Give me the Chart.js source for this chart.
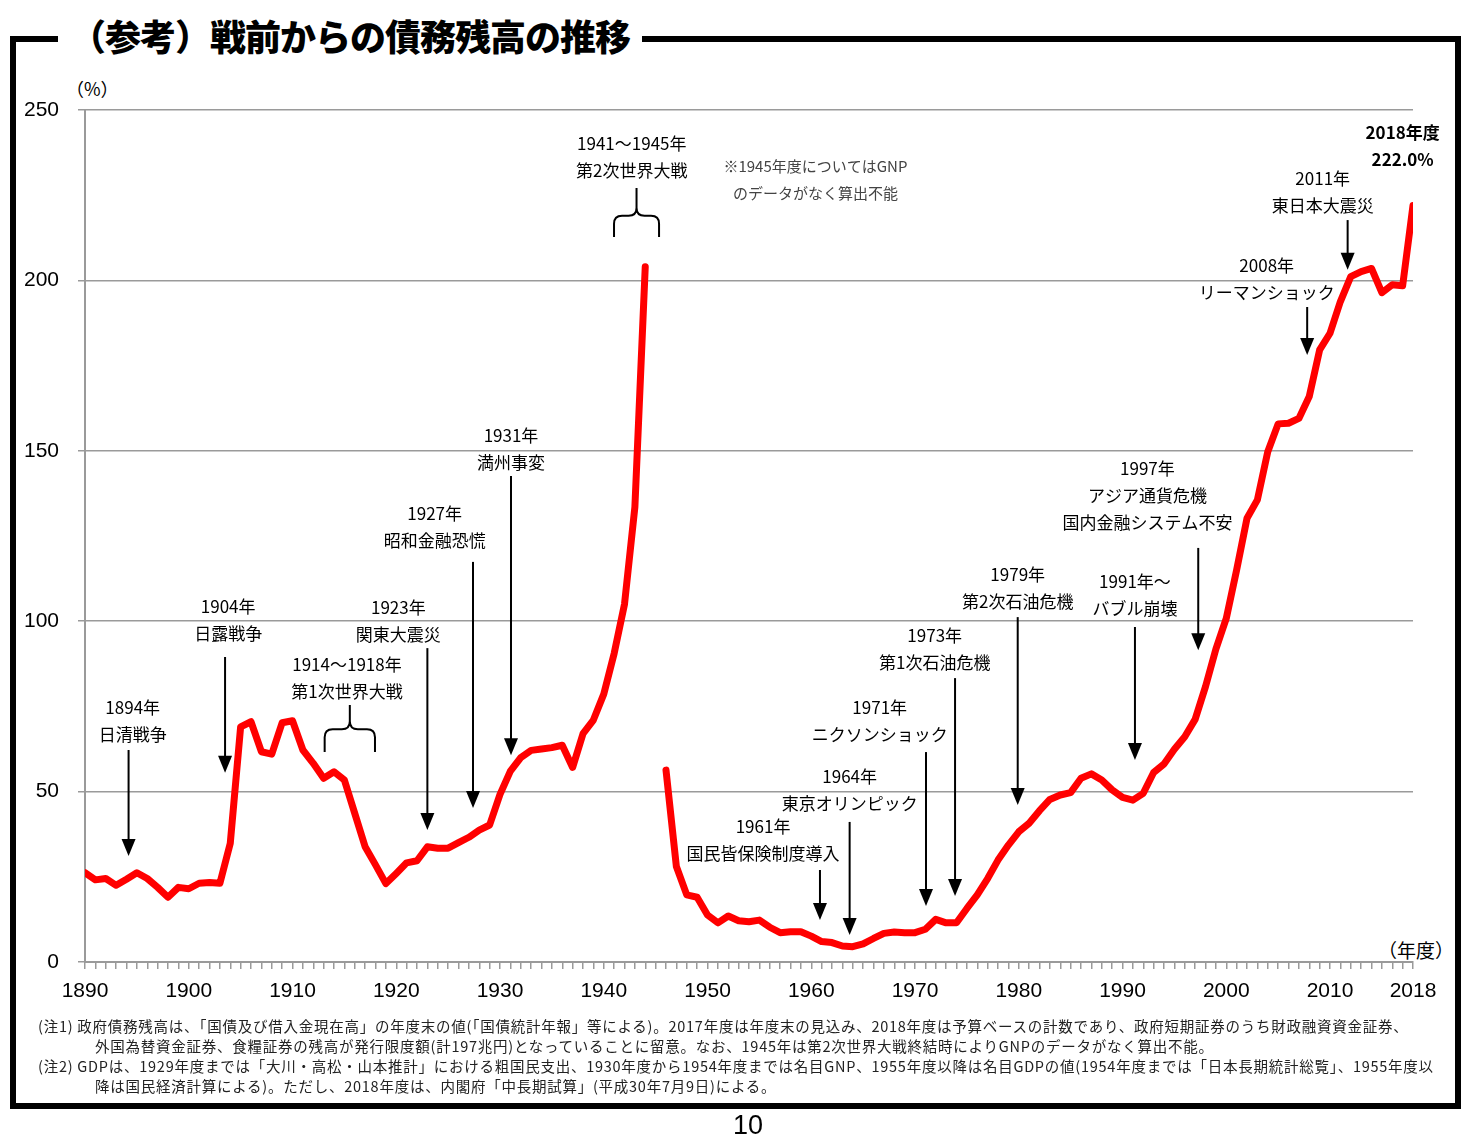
<!DOCTYPE html>
<html lang="ja">
<head>
<meta charset="utf-8">
<title>戦前からの債務残高の推移</title>
<script src="https://cdn.jsdelivr.net/npm/chart.js@4.4.1/dist/chart.umd.min.js"></script>
<style>
    html, body { margin: 0; padding: 0; background: #fff; }
    body { width: 1465px; height: 1139px; position: relative; overflow: hidden; font-family: 'Noto Sans CJK JP', sans-serif; color: #000; }
    #frame { position: absolute; left: 10px; top: 36px; width: 1451px; height: 1073px; box-sizing: border-box; border: 6px solid #000; }
    #title { position: absolute; left: 58px; top: 11px; padding: 0 12px; background: #fff; font-size: 36px; font-weight: 900; letter-spacing: -1px; line-height: 48px; white-space: nowrap; }
    #myChart { position: absolute; left: 0; top: 0; }
    .unit { position: absolute; font-size: 18px; white-space: nowrap; }
    #notes { position: absolute; left: 38px; top: 1016px; font-size: 14.5px; letter-spacing: 0.75px; line-height: 20px; color: #222; white-space: nowrap; }
    #notes .indent { padding-left: 57px; }
    #page { position: absolute; left: 733px; top: 1110px; font-family: 'Liberation Sans', Arial, sans-serif; font-size: 27px; }
</style>
</head>
<body>
<div id="frame"></div>
<div id="title">（参考）戦前からの債務残高の推移</div>
<div class="unit" style="left:66px; top:75px;">（%）</div>
<div class="unit" style="left:1378px; top:936px; font-size:19px;">（年度）</div>
<canvas id="myChart" width="1465" height="1139"></canvas>
<div id="notes">
    <div>(注1) 政府債務残高は、「国債及び借入金現在高」の年度末の値(「国債統計年報」等による)。2017年度は年度末の見込み、2018年度は予算ベースの計数であり、政府短期証券のうち財政融資資金証券、</div>
    <div class="indent">外国為替資金証券、食糧証券の残高が発行限度額(計197兆円)となっていることに留意。なお、1945年は第2次世界大戦終結時によりGNPのデータがなく算出不能。</div>
    <div>(注2) GDPは、1929年度までは「大川・高松・山本推計」における粗国民支出、1930年度から1954年度までは名目GNP、1955年度以降は名目GDPの値(1954年度までは「日本長期統計総覧」、1955年度以</div>
    <div class="indent">降は国民経済計算による)。ただし、2018年度は、内閣府「中長期試算」(平成30年7月9日)による。</div>
</div>
<div id="page">10</div>
<script>
// 年度
const fiscalYears = [
    1890, 1891, 1892, 1893, 1894, 1895, 1896, 1897, 1898, 1899,
    1900, 1901, 1902, 1903, 1904, 1905, 1906, 1907, 1908, 1909,
    1910, 1911, 1912, 1913, 1914, 1915, 1916, 1917, 1918, 1919,
    1920, 1921, 1922, 1923, 1924, 1925, 1926, 1927, 1928, 1929,
    1930, 1931, 1932, 1933, 1934, 1935, 1936, 1937, 1938, 1939,
    1940, 1941, 1942, 1943, 1944, 1945, 1946, 1947, 1948, 1949,
    1950, 1951, 1952, 1953, 1954, 1955, 1956, 1957, 1958, 1959,
    1960, 1961, 1962, 1963, 1964, 1965, 1966, 1967, 1968, 1969,
    1970, 1971, 1972, 1973, 1974, 1975, 1976, 1977, 1978, 1979,
    1980, 1981, 1982, 1983, 1984, 1985, 1986, 1987, 1988, 1989,
    1990, 1991, 1992, 1993, 1994, 1995, 1996, 1997, 1998, 1999,
    2000, 2001, 2002, 2003, 2004, 2005, 2006, 2007, 2008, 2009,
    2010, 2011, 2012, 2013, 2014, 2015, 2016, 2017, 2018,
];

// 債務残高の対GDP(GNP)比 (%)。1945年度は算出不能のため null
const debtRatio = [
    26.2, 24.1, 24.5, 22.5, 24.3, 26.2, 24.5, 21.9, 19.0, 21.9,
    21.5, 23.1, 23.3, 23.1, 34.8, 69.0, 70.5, 61.7, 61.0, 70.2,
    70.8, 62.2, 58.3, 53.9, 55.8, 53.4, 43.6, 33.8, 28.5, 23.0,
    26.0, 29.1, 29.7, 33.8, 33.4, 33.4, 35.0, 36.6, 38.7, 40.2,
    49.2, 56.0, 60.0, 62.1, 62.5, 62.9, 63.6, 57.1, 67.0, 71.0,
    78.6, 90.5, 105.0, 133.5, 204.0, null, 56.3, 28.0, 19.7, 19.0,
    13.8, 11.5, 13.5, 12.1, 11.8, 12.3, 10.2, 8.6, 8.9, 8.9,
    7.6, 6.0, 5.7, 4.7, 4.5, 5.3, 6.9, 8.4, 8.8, 8.6,
    8.6, 9.6, 12.5, 11.5, 11.5, 15.7, 19.7, 24.5, 29.9, 34.3,
    38.2, 40.7, 44.4, 47.7, 49.0, 49.7, 53.9, 55.2, 53.4, 50.5,
    48.3, 47.5, 49.5, 55.6, 58.1, 62.4, 66.1, 71.2, 80.8, 91.8,
    100.8, 115.0, 130.2, 135.6, 149.7, 157.9, 158.1, 159.5, 165.9, 179.6,
    184.5, 193.8, 201.1, 202.6, 203.5, 196.4, 198.7, 198.4, 222.0,
];

// 軸の目盛ラベル
const xTickLabels = [1890, 1900, 1910, 1920, 1930, 1940, 1950, 1960, 1970, 1980, 1990, 2000, 2010, 2018];
const yTickValues = [0, 50, 100, 150, 200, 250];

// 出来事の注記 (位置は年度・%の単位で指定)
const events = [
    { lines: ['1894年', '日清戦争'], at: [1894.6, 74.8], arrow: [1894.2, 62.2, 31.1] },
    { lines: ['1904年', '日露戦争'], at: [1903.8, 104.2], arrow: [1903.5, 89.5, 55.5] },
    { lines: ['1914～1918年', '第1次世界大戦'], at: [1915.25, 87.4], brace: [1913.1, 1917.95, 75.4, 68.3, 61.6] },
    { lines: ['1923年', '関東大震災'], at: [1920.2, 103.9], arrow: [1923.0, 92.1, 38.7] },
    { lines: ['1927年', '昭和金融恐慌'], at: [1923.7, 131.5], arrow: [1927.4, 117.4, 45.2] },
    { lines: ['1931年', '満州事変'], at: [1931.06, 154.6], arrow: [1931.06, 142.6, 60.7] },
    { lines: ['1941～1945年', '第2次世界大戦'], at: [1942.7, 240.3], brace: [1940.99, 1945.33, 227.1, 219.0, 212.7] },
    { lines: ['※1945年度についてはGNP', 'のデータがなく算出不能'], at: [1960.4, 233.6], note: true },
    { lines: ['1961年', '国民皆保険制度導入'], at: [1955.35, 39.6], arrow: [1960.84, 27.0, 12.3] },
    { lines: ['1964年', '東京オリンピック'], at: [1963.7, 54.3], arrow: [1963.7, 41.1, 7.9] },
    { lines: ['1971年', 'ニクソンショック'], at: [1966.6, 74.8], arrow: [1971.06, 61.6, 16.4] },
    { lines: ['1973年', '第1次石油危機'], at: [1971.9, 95.9], arrow: [1973.86, 83.3, 19.4] },
    { lines: ['1979年', '第2次石油危機'], at: [1979.9, 113.8], arrow: [1979.9, 101.2, 46.1] },
    { lines: ['1991年～', 'バブル崩壊'], at: [1991.2, 111.5], arrow: [1991.2, 98.3, 59.3] },
    { lines: ['1997年', 'アジア通貨危機', '国内金融システム不安'], at: [1992.4, 144.7], arrow: [1997.3, 121.5, 91.5] },
    { lines: ['2008年', 'リーマンショック'], at: [2003.9, 204.5], arrow: [2007.8, 192.2, 178.1] },
    { lines: ['2011年', '東日本大震災'], at: [2009.3, 230.0], arrow: [2011.7, 217.7, 203.1] },
    { lines: ['2018年度', '222.0%'], at: [2017.0, 243.3], bold: true },
];

/**
 * 下向きの矢印を描画します。
 */
const drawArrow = (ctx, x, yFrom, yTo) => {
    ctx.lineWidth = 2;
    ctx.beginPath();
    ctx.moveTo(x, yFrom);
    ctx.lineTo(x, yTo - 12);
    ctx.stroke();

    ctx.beginPath();
    ctx.moveTo(x - 7, yTo - 17);
    ctx.lineTo(x + 7, yTo - 17);
    ctx.lineTo(x, yTo);
    ctx.closePath();
    ctx.fill();
};

/**
 * 期間を示す括弧を描画します。
 */
const drawBrace = (ctx, xl, xr, yTop, yMid, yEnd) => {
    const xc = (xl + xr) / 2;
    const r = 8;
    ctx.lineWidth = 2;
    ctx.beginPath();
    ctx.moveTo(xl, yEnd);
    ctx.lineTo(xl, yMid + r);
    ctx.quadraticCurveTo(xl, yMid, xl + r, yMid);
    ctx.lineTo(xc - r, yMid);
    ctx.quadraticCurveTo(xc, yMid, xc, yMid - r);
    ctx.lineTo(xc, yTop);
    ctx.moveTo(xr, yEnd);
    ctx.lineTo(xr, yMid + r);
    ctx.quadraticCurveTo(xr, yMid, xr - r, yMid);
    ctx.lineTo(xc + r, yMid);
    ctx.quadraticCurveTo(xc, yMid, xc, yMid - r);
    ctx.stroke();
};

const annotationPlugin = {
    id: 'annotations',
    afterDatasetsDraw: (chart) => {
        const ctx = chart.ctx;
        const x = chart.scales.x;
        const y = chart.scales.y;

        ctx.save();
        ctx.fillStyle = '#000';
        ctx.strokeStyle = '#000';
        ctx.textAlign = 'center';
        ctx.textBaseline = 'middle';

        events.forEach((ev) => {
            const tx = x.getPixelForValue(ev.at[0]);
            const ty = y.getPixelForValue(ev.at[1]);

            if (ev.note) {
                ctx.font = '15px "Noto Sans CJK JP"';
                ctx.fillStyle = '#444';
            } else if (ev.bold) {
                ctx.font = 'bold 17px "Noto Sans CJK JP"';
                ctx.fillStyle = '#000';
            } else {
                ctx.font = '17px "Noto Sans CJK JP"';
                ctx.fillStyle = '#000';
            }

            ev.lines.forEach((line, i) => {
                ctx.fillText(line, tx, ty + i * 27);
            });

            ctx.fillStyle = '#000';
            if (ev.arrow) {
                drawArrow(ctx, x.getPixelForValue(ev.arrow[0]), y.getPixelForValue(ev.arrow[1]), y.getPixelForValue(ev.arrow[2]));
            }
            if (ev.brace) {
                drawBrace(ctx,
                    x.getPixelForValue(ev.brace[0]), x.getPixelForValue(ev.brace[1]),
                    y.getPixelForValue(ev.brace[2]), y.getPixelForValue(ev.brace[3]), y.getPixelForValue(ev.brace[4]));
            }
        });

        ctx.restore();
    },
};

const createChart = () => {
    const points = fiscalYears.map((year, i) => ({ x: year, y: debtRatio[i] }));

    const config = {
        type: 'line',
        data: {
            datasets: [
                {
                    label: '債務残高(対GDP比)',
                    data: points,
                    borderColor: '#ff0000',
                    backgroundColor: '#ff0000',
                    borderWidth: 7,
                    borderJoinStyle: 'round',
                    borderCapStyle: 'round',
                    pointRadius: 0,
                    spanGaps: false,
                    tension: 0,
                },
            ],
        },
        options: {
            responsive: false,
            animation: false,
            layout: {
                padding: { left: 0, right: 52, top: 110, bottom: 127 },
            },
            plugins: {
                legend: { display: false },
                tooltip: { enabled: false },
            },
            scales: {
                x: {
                    type: 'linear',
                    min: 1890,
                    max: 2018,
                    afterFit: (scale) => { scale.height = 50; },
                    ticks: {
                        stepSize: 1,
                        autoSkip: false,
                        maxRotation: 0,
                        minRotation: 0,
                        padding: 10,
                        color: '#000',
                        font: { family: '"Liberation Sans", Arial, sans-serif', size: 21 },
                        callback: (value) => (xTickLabels.includes(value) ? String(value) : ''),
                    },
                    grid: {
                        drawOnChartArea: false,
                        drawTicks: true,
                        tickLength: 7,
                        color: '#9a9a9a',
                        lineWidth: 1.5,
                    },
                    border: { color: '#9a9a9a', width: 2 },
                },
                y: {
                    min: 0,
                    max: 250,
                    afterFit: (scale) => { scale.width = 85; },
                    afterBuildTicks: (scale) => {
                        scale.ticks = yTickValues.map((v) => ({ value: v }));
                    },
                    ticks: {
                        padding: 19,
                        color: '#000',
                        font: { family: '"Liberation Sans", Arial, sans-serif', size: 21 },
                    },
                    grid: {
                        color: '#9a9a9a',
                        lineWidth: 1.5,
                        tickLength: 7,
                    },
                    border: { color: '#9a9a9a', width: 2 },
                },
            },
        },
        plugins: [annotationPlugin],
    };

    return new Chart(document.getElementById('myChart'), config);
};

createChart();
</script>
</body>
</html>
